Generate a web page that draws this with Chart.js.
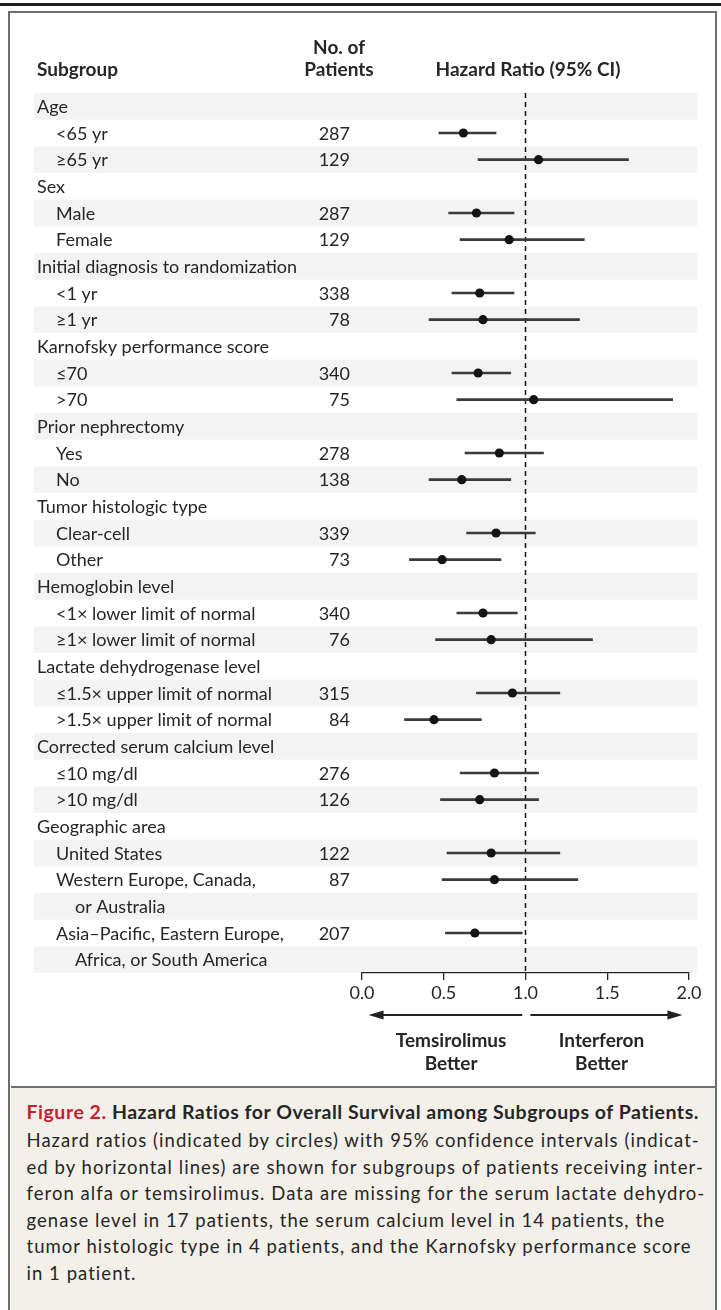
<!DOCTYPE html>
<html>
<head>
<meta charset="utf-8">
<script src="https://cdn.jsdelivr.net/npm/chart.js@4/dist/chart.umd.min.js"></script>
<style>
	body { margin: 0; width: 721px; height: 1310px; overflow: hidden; background: #fff; position: relative; font-family: Lato, "Noto Sans", sans-serif; }
	.topline { position: absolute; left: 0; top: 3px; width: 721px; height: 2.5px; background: #1e1e1e; }
	.box { position: absolute; left: 8px; top: 11px; width: 709px; height: 1310px; border: 2.5px solid #6e6e6e; border-bottom: none; box-sizing: border-box; }
	.caption { position: absolute; left: 10.5px; top: 1086px; width: 704px; height: 230px; background: #f3f0ea; border-top: 2.5px solid #6e6e6e; box-sizing: border-box; padding: 10px 0 0 16px; color: #262626; }
	.caption .title { font-weight: bold; font-size: 19.5px; line-height: 27px; white-space: nowrap; }
	.caption .title span.fig { color: #c71f2d; }
	.caption .body { font-size: 18.5px; line-height: 26.6px; margin-top: 2px; white-space: nowrap; }
	.caption .line { display: inline-block; }
	#chart { position: absolute; left: 0; top: 0; }
</style>
</head>
<body>
<div class="topline"></div>
<div class="box"></div>
<canvas id="chart" width="721" height="1087"></canvas>
<div class="caption">
	<div class="title"><span class="line" id="capTitle"><span class="fig">Figure 2.</span> Hazard Ratios for Overall Survival among Subgroups of Patients.</span></div>
	<div class="body" id="capBody">
		<span class="line" id="capFirst">Hazard ratios (indicated by circles) with 95% confidence intervals (indicat-</span><br>
		<span class="line">ed by horizontal lines) are shown for subgroups of patients receiving inter-</span><br>
		<span class="line">feron alfa or temsirolimus. Data are missing for the serum lactate dehydro-</span><br>
		<span class="line">genase level in 17 patients, the serum calcium level in 14 patients, the</span><br>
		<span class="line">tumor histologic type in 4 patients, and the Karnofsky performance score</span><br>
		<span class="line">in 1 patient.</span>
	</div>
</div>
<script>
// rows, top to bottom
const rowLabels = [
	'Age', '<65 yr', '≥65 yr',
	'Sex', 'Male', 'Female',
	'Initial diagnosis to randomization', '<1 yr', '≥1 yr',
	'Karnofsky performance score', '≤70', '>70',
	'Prior nephrectomy', 'Yes', 'No',
	'Tumor histologic type', 'Clear-cell', 'Other',
	'Hemoglobin level', '<1× lower limit of normal', '≥1× lower limit of normal',
	'Lactate dehydrogenase level', '≤1.5× upper limit of normal', '>1.5× upper limit of normal',
	'Corrected serum calcium level', '≤10 mg/dl', '>10 mg/dl',
	'Geographic area', 'United States', 'Western Europe, Canada,', 'or Australia',
	'Asia–Pacific, Eastern Europe,', 'Africa, or South America'
];
// g = group heading, s = subgroup, c = continued line
const rowKind = ['g','s','s','g','s','s','g','s','s','g','s','s','g','s','s','g','s','s','g','s','s','g','s','s','g','s','s','g','s','s','c','s','c'];

const patients = [null,287,129, null,287,129, null,338,78, null,340,75, null,278,138, null,339,73, null,340,76, null,315,84, null,276,126, null,122,87,null, 207,null];
const hazardRatio = [null,0.62,1.08, null,0.70,0.90, null,0.72,0.74, null,0.71,1.05, null,0.84,0.61, null,0.82,0.49, null,0.74,0.79, null,0.92,0.44, null,0.81,0.72, null,0.79,0.81,null, 0.69,null];
const ciLow = [null,0.47,0.71, null,0.53,0.60, null,0.55,0.41, null,0.55,0.58, null,0.63,0.41, null,0.64,0.29, null,0.58,0.45, null,0.70,0.26, null,0.60,0.48, null,0.52,0.49,null, 0.51,null];
const ciHigh = [null,0.82,1.63, null,0.93,1.36, null,0.93,1.33, null,0.91,1.90, null,1.11,0.91, null,1.06,0.85, null,0.95,1.41, null,1.21,0.73, null,1.08,1.08, null,1.21,1.32,null, 0.98,null];

const xTicks = [0, 0.5, 1, 1.5, 2];

const FONT = 'Lato, "Noto Sans", sans-serif';
const INK = '#262626';

// stretch caption lines to the column width of the printed figure
const fitLine = function(el, target, count) {
	const w = el.getBoundingClientRect().width;
	const spacing = (target - w) / count;
	el.parentNode.style.letterSpacing = spacing.toFixed(2) + 'px';
};
fitLine(document.getElementById('capTitle'), 673, document.getElementById('capTitle').textContent.length);
fitLine(document.getElementById('capFirst'), 673, document.getElementById('capFirst').textContent.length);

const arrow = function(ctx, from, to, y) {
	const dir = Math.sign(to - from);
	ctx.beginPath();
	ctx.moveTo(from, y);
	ctx.lineTo(to - dir * 10, y);
	ctx.stroke();
	ctx.beginPath();
	ctx.moveTo(to, y);
	ctx.lineTo(to - dir * 15, y - 4.5);
	ctx.lineTo(to - dir * 15, y + 4.5);
	ctx.closePath();
	ctx.fill();
};

const forestPlugin = {
	id: 'forest',
	beforeDraw(chart) {
		const { ctx, chartArea, scales: { x, y } } = chart;
		const band = y.getPixelForValue(1) - y.getPixelForValue(0);
		ctx.save();
		// alternating stripes
		ctx.fillStyle = '#f3f3f3';
		rowLabels.forEach((label, i) => {
			if (i % 2 === 0)
				ctx.fillRect(34, y.getPixelForValue(i) - band / 2, 663, band);
		});
		// no-effect line
		const x1 = x.getPixelForValue(1);
		ctx.strokeStyle = '#111';
		ctx.lineWidth = 1.5;
		ctx.setLineDash([5, 4]);
		ctx.beginPath();
		ctx.moveTo(x1, chartArea.top);
		ctx.lineTo(x1, chartArea.bottom);
		ctx.stroke();
		ctx.restore();
	},
	afterDraw(chart) {
		const { ctx, scales: { x, y } } = chart;
		ctx.save();
		ctx.fillStyle = INK;
		ctx.textBaseline = 'middle';

		// header
		ctx.font = 'bold 19px ' + FONT;
		ctx.textAlign = 'left';
		ctx.fillText('Subgroup', 37, 70);
		ctx.textAlign = 'center';
		ctx.fillText('No. of', 339, 48);
		ctx.fillText('Patients', 339, 70);
		ctx.fillText('Hazard Ratio (95% CI)', 528, 70);

		// row labels and counts
		ctx.font = '18px ' + FONT;
		rowLabels.forEach((label, i) => {
			const py = y.getPixelForValue(i) + 1;
			const indent = { g: 37, s: 56, c: 75 }[rowKind[i]];
			ctx.textAlign = 'left';
			ctx.fillText(label, indent, py);
			if (patients[i] !== null) {
				ctx.textAlign = 'right';
				ctx.fillText(String(patients[i]), 350, py);
			}
		});

		// direction arrows
		ctx.strokeStyle = '#222';
		ctx.fillStyle = '#222';
		ctx.lineWidth = 2;
		arrow(ctx, x.getPixelForValue(0.98), x.getPixelForValue(0.04), 1015);
		arrow(ctx, x.getPixelForValue(1.03), x.getPixelForValue(1.96), 1015);

		ctx.fillStyle = INK;
		ctx.font = 'bold 19px ' + FONT;
		ctx.textAlign = 'center';
		const left = x.getPixelForValue(0.545), right = x.getPixelForValue(1.465);
		ctx.fillText('Temsirolimus', left, 1041);
		ctx.fillText('Better', left, 1064);
		ctx.fillText('Interferon', right, 1041);
		ctx.fillText('Better', right, 1064);
		ctx.restore();
	}
};

const ctx = document.getElementById('chart').getContext('2d');

new Chart(ctx, {
	type: 'bar',
	data: {
		labels: rowLabels,
		datasets: [
			{
				type: 'bar',
				indexAxis: 'y',
				data: ciLow.map((lo, i) => lo === null ? null : [lo, ciHigh[i]]),
				backgroundColor: '#3a3a3a',
				barThickness: 2,
				borderWidth: 0,
				order: 2
			},
			{
				type: 'scatter',
				data: hazardRatio.map((v, i) => v === null ? null : { x: v, y: rowLabels[i] }).filter(p => p),
				backgroundColor: '#141414',
				borderWidth: 0,
				pointRadius: 4.6,
				showLine: false,
				order: 1
			}
		]
	},
	options: {
		responsive: false,
		animation: false,
		indexAxis: 'y',
		layout: { padding: { left: 362, right: 32, top: 93, bottom: 0 } },
		plugins: {
			legend: { display: false },
			tooltip: { enabled: false }
		},
		scales: {
			x: {
				type: 'linear',
				position: 'bottom',
				min: 0,
				max: 2,
				afterBuildTicks: scale => { scale.ticks = xTicks.map(v => ({ value: v })); },
				afterFit: scale => { scale.height = 114; },
				ticks: {
					callback: v => v.toFixed(1),
					color: INK,
					font: { family: FONT, size: 18 },
					padding: 2,
					maxRotation: 0
				},
				grid: { drawOnChartArea: false, drawTicks: true, tickLength: 7, color: '#222', lineWidth: 1.3 },
				border: { display: true, color: '#222', width: 1.3 }
			},
			y: {
				type: 'category',
				display: false,
				offset: true,
				grid: { display: false }
			}
		}
	},
	plugins: [forestPlugin]
});
</script>
</body>
</html>
